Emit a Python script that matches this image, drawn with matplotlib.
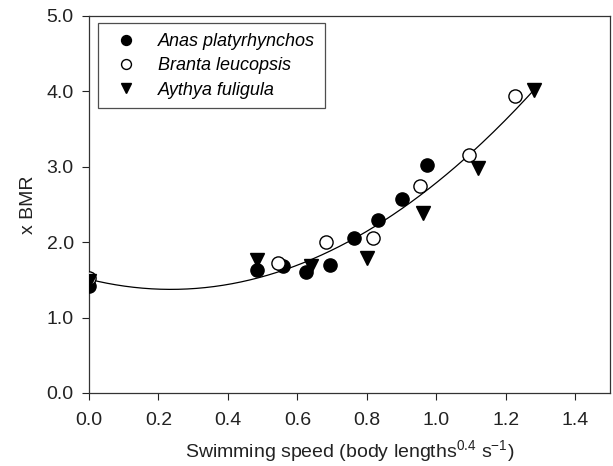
import numpy as np
import matplotlib.pyplot as plt

plt.rcParams['font.family'] = ['Liberation Sans', 'DejaVu Sans']
plt.rcParams['mathtext.default'] = 'regular'

# Anas platyrhynchos (filled circles)
anas_x = [0.0, 0.485, 0.56, 0.625, 0.694, 0.763, 0.832, 0.90, 0.972]
anas_y = [1.42, 1.63, 1.68, 1.60, 1.70, 2.05, 2.29, 2.57, 3.03]

# Branta leucopsis (open circles)
branta_x = [0.0, 0.545, 0.683, 0.818, 0.952, 1.093, 1.228]
branta_y = [1.53, 1.72, 2.00, 2.06, 2.74, 3.16, 3.94]

# Aythya fuligula (down triangles)
aythya_x = [0.0, 0.485, 0.64, 0.80, 0.961, 1.12, 1.28]
aythya_y = [1.49, 1.77, 1.69, 1.79, 2.39, 2.99, 4.02]

x_ticks = [0.0, 0.2, 0.4, 0.6, 0.8, 1.0, 1.2, 1.4]
y_ticks = [0.0, 1.0, 2.0, 3.0, 4.0, 5.0]

fig = plt.figure(figsize=(6.13, 4.66), dpi=100)
ax = fig.add_axes([0.1452, 0.1567, 0.8498, 0.809])

# quadratic regression through all points
all_x = np.array(anas_x + branta_x + aythya_x)
all_y = np.array(anas_y + branta_y + aythya_y)
coef = np.polyfit(all_x, all_y, 2)
xx = np.linspace(0, max(all_x), 200)
ax.plot(xx, np.polyval(coef, xx), color='black', lw=0.9, zorder=2)

ms = 9.5
ax.plot(anas_x, anas_y, 'o', color='black', ms=ms, ls='none', label='Anas platyrhynchos', zorder=3)
ax.plot(branta_x, branta_y, 'o', mfc='white', mec='black', mew=1.0, ms=ms, ls='none',
        label='Branta leucopsis', zorder=3)
ax.plot(aythya_x, aythya_y, 'v', color='black', ms=ms, ls='none', label='Aythya fuligula', zorder=3)

ax.set_xlim(0, 1.5)
ax.set_ylim(0, 5.0)
ax.set_xticks(x_ticks)
ax.set_yticks(y_ticks)
ax.set_xticklabels(['%.1f' % v for v in x_ticks])
ax.set_yticklabels(['%.1f' % v for v in y_ticks])
ax.tick_params(direction='out', length=5, width=0.8, labelsize=14, colors='#222222')
ax.tick_params(axis='x', pad=9)
ax.tick_params(axis='y', pad=6)
for s in ax.spines.values():
    s.set_linewidth(0.9)
    s.set_color('#333333')

ax.set_xlabel('Swimming speed (body lengths$^{0.4}$ s$^{-1}$)', fontsize=14, labelpad=6, color='#222222')
ax.set_ylabel('x BMR', fontsize=14, labelpad=7, color='#222222')

leg = ax.legend(loc='upper left', bbox_to_anchor=(0.017, 0.981), borderaxespad=0, fontsize=13,
                frameon=True, fancybox=False, edgecolor='#222222', markerscale=0.75,
                handletextpad=0.8, borderpad=0.55, labelspacing=0.4, handlelength=2.0)
leg.get_frame().set_linewidth(0.9)
for t in leg.get_texts():
    t.set_fontstyle('italic')

fig.savefig('out.png', dpi=100)
